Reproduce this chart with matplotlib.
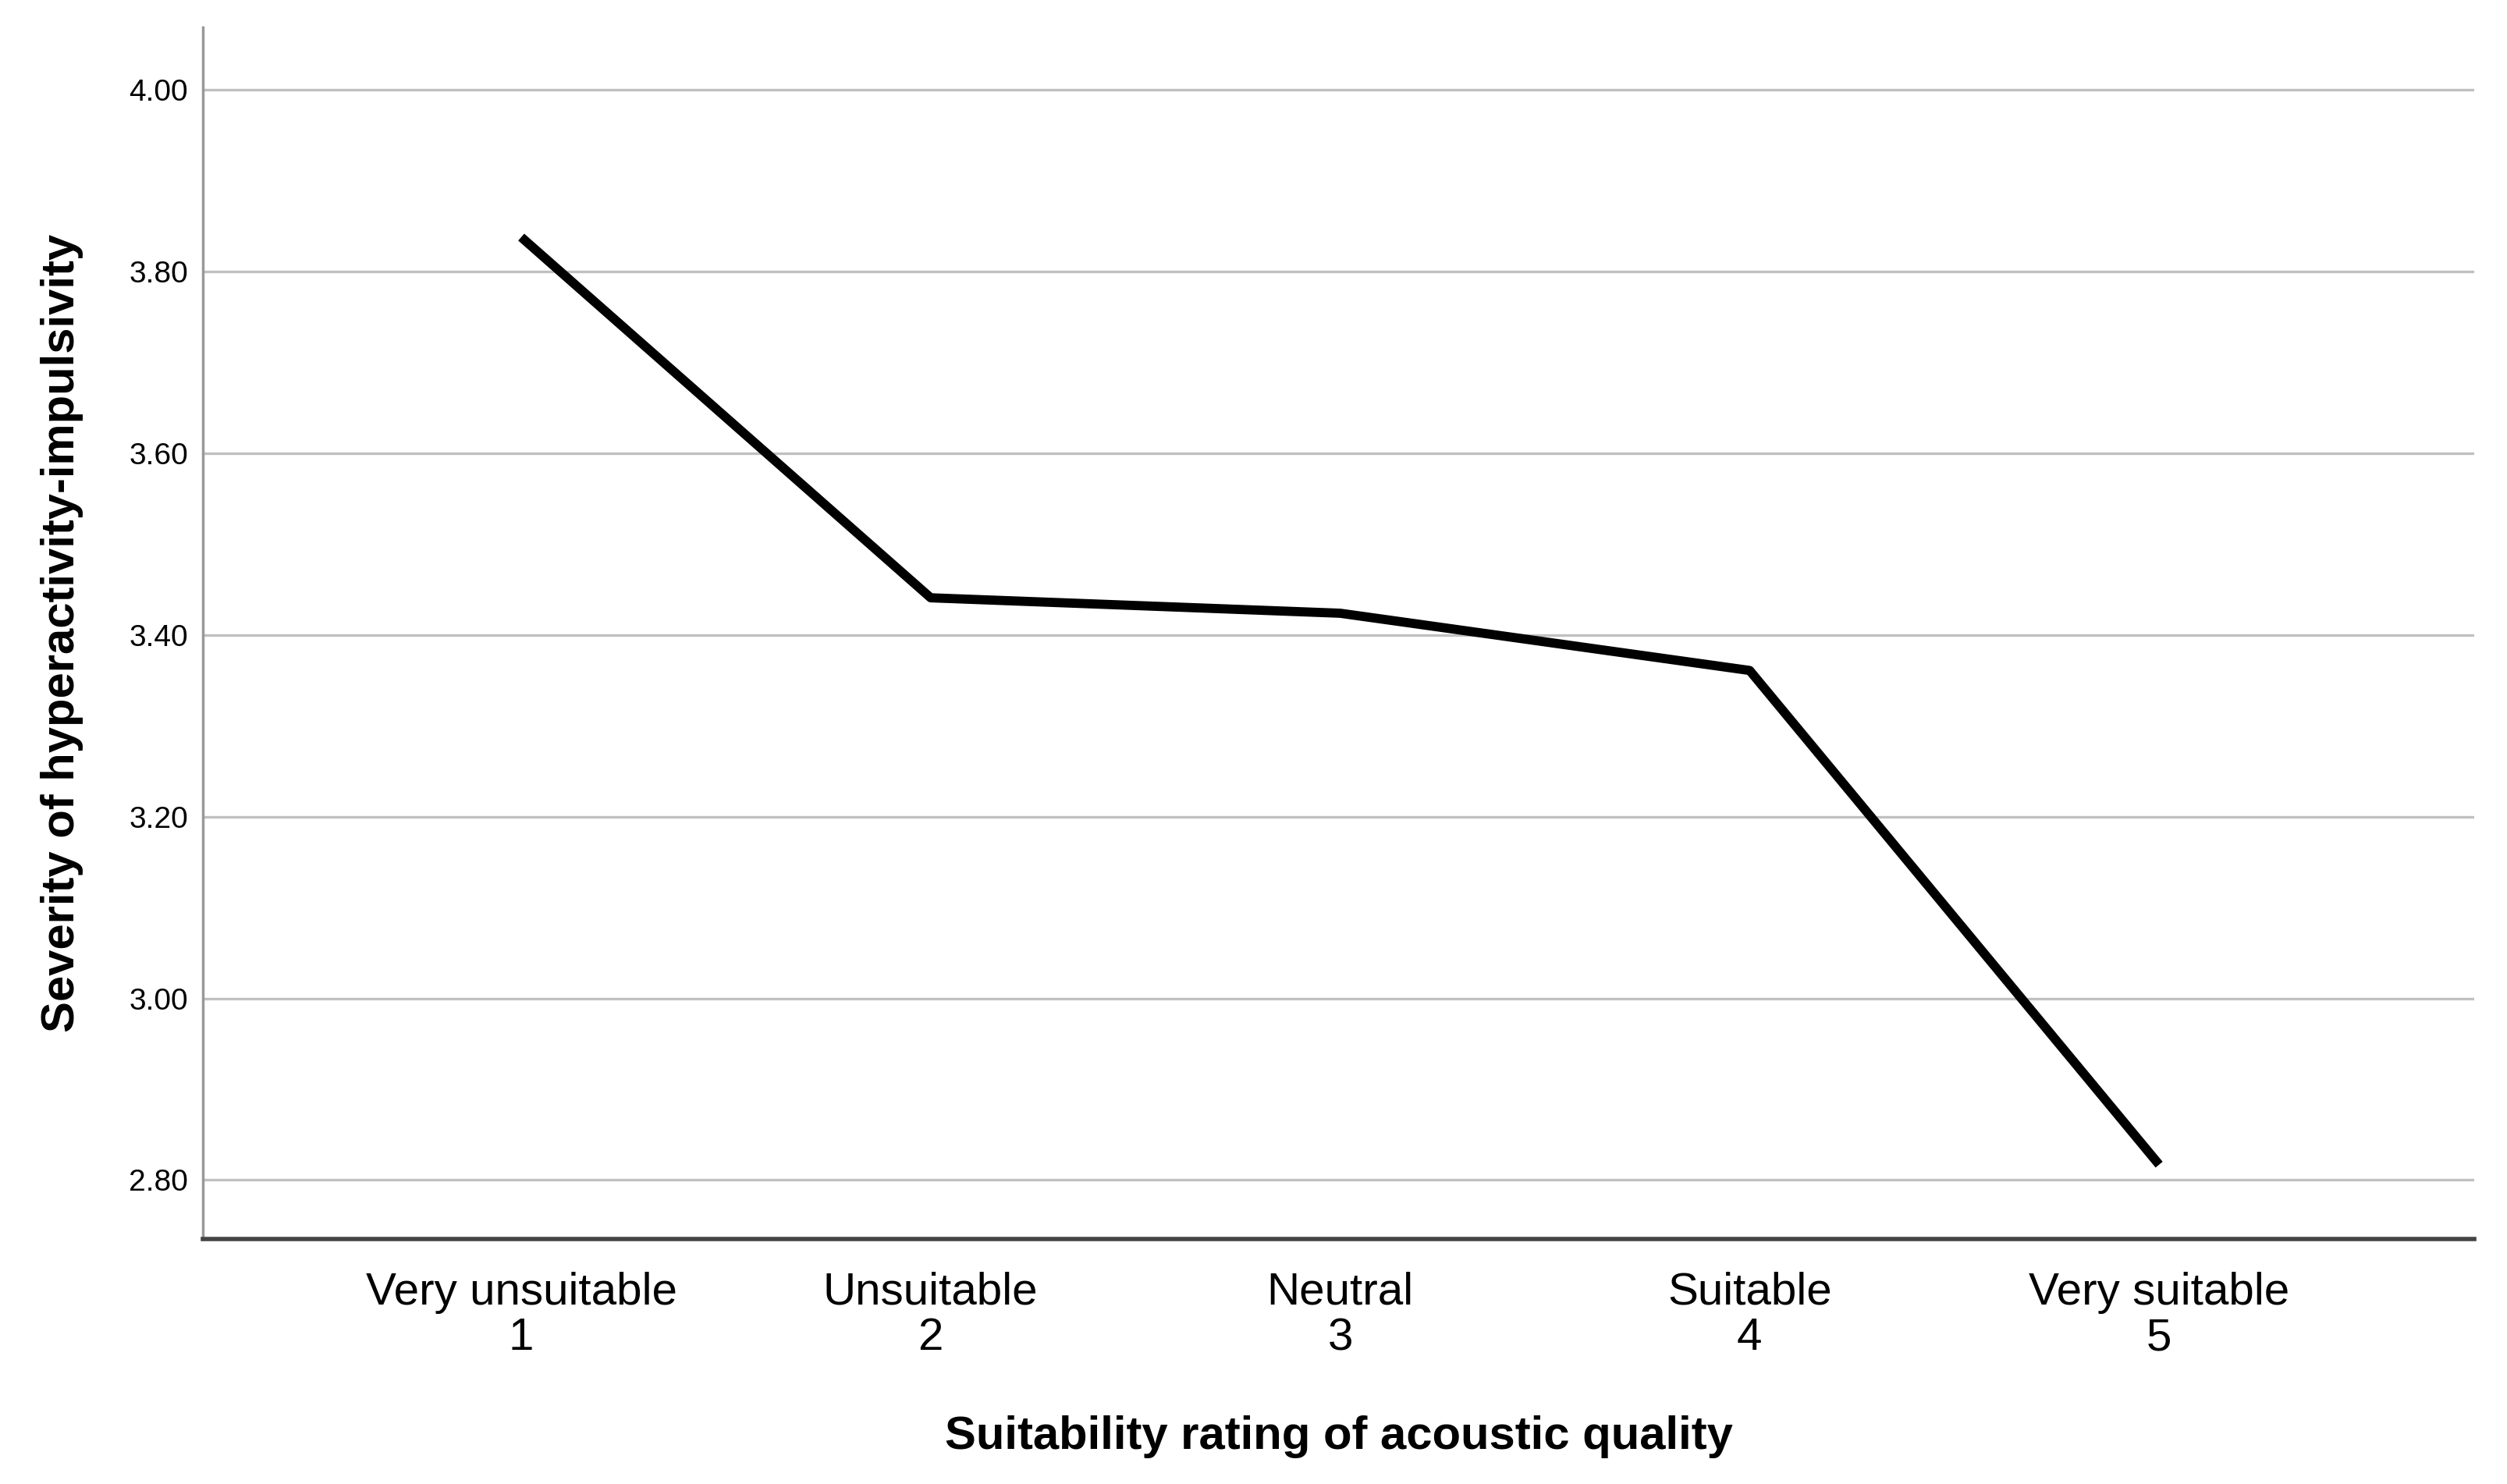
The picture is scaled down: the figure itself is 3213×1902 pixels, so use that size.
import matplotlib
matplotlib.use("Agg")
import matplotlib.pyplot as plt

categories = ["Very unsuitable", "Unsuitable", "Neutral", "Suitable", "Very suitable"]
codes = [1, 2, 3, 4, 5]
severity = [3.838, 3.441, 3.424, 3.361, 2.817]
y_ticks = [2.80, 3.00, 3.20, 3.40, 3.60, 3.80, 4.00]

narrow = ["Liberation Sans Narrow", "Liberation Sans", "DejaVu Sans"]

fig = plt.figure(figsize=(32.13, 19.02), dpi=100)
ax = fig.add_axes([0.081, 0.165, 0.906, 0.8166])

for t in y_ticks:
    ax.axhline(t, color="#c0c0c0", linewidth=2.4, zorder=1)

ax.plot(codes, severity, color="black", linewidth=8.5, solid_capstyle="butt", zorder=3)

ax.set_xlim(0.223, 5.77)
ax.set_ylim(2.735, 4.069)

ax.set_yticks(y_ticks)
ax.set_yticklabels(["%.2f" % t for t in y_ticks], family=narrow, fontsize=28)
ax.set_xticks(codes)
ax.set_xticklabels(["%s\n%d" % (c, n) for c, n in zip(categories, codes)],
                   family=narrow, fontsize=42, linespacing=1.1)
ax.tick_params(axis="both", length=0)
ax.tick_params(axis="x", pad=30)
ax.tick_params(axis="y", pad=14)

for s in ["top", "right"]:
    ax.spines[s].set_visible(False)
ax.spines["left"].set_color("#999999")
ax.spines["left"].set_linewidth(2.5)
ax.spines["bottom"].set_color("#444444")
ax.spines["bottom"].set_linewidth(4)

ax.set_xlabel("Suitability rating of acoustic quality", family="Liberation Sans",
              fontweight="bold", fontsize=43, labelpad=52)
ax.set_ylabel("Severity of hyperactivity-impulsivity", family="Liberation Sans",
              fontweight="bold", fontsize=43, labelpad=42)

fig.savefig("out.png", dpi=100, facecolor="white")
